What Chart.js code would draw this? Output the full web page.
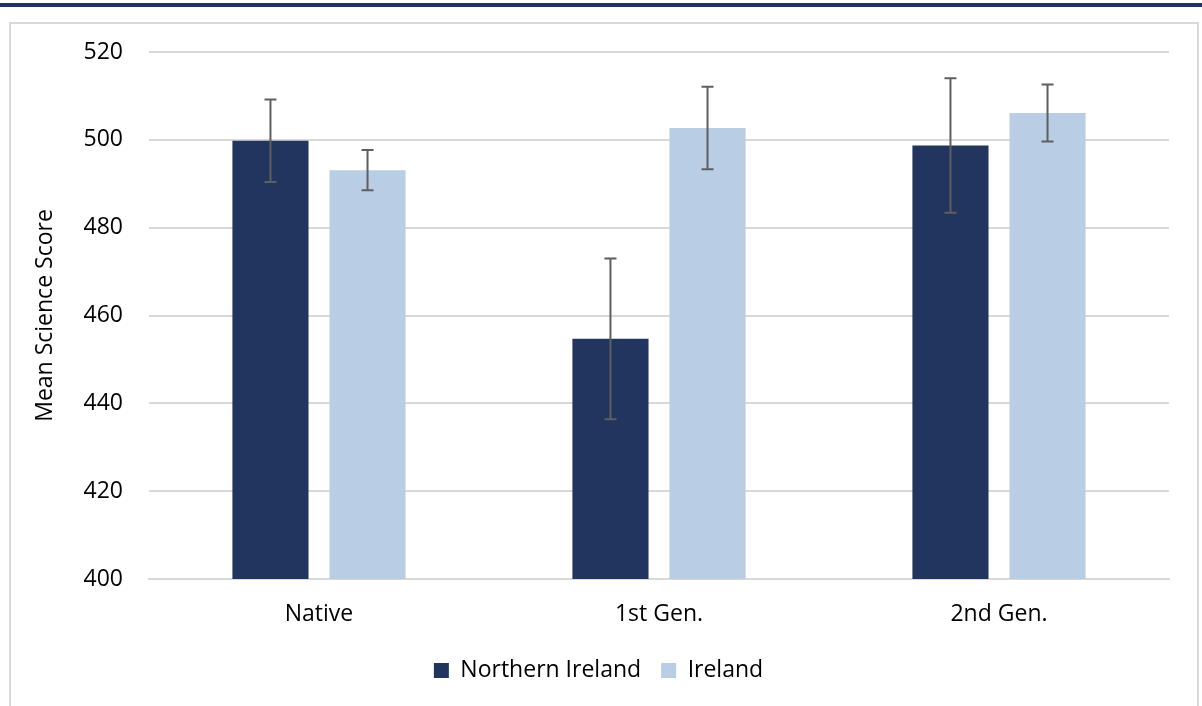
<!DOCTYPE html>
<html>
<head>
<meta charset="utf-8">
<script src="https://cdn.jsdelivr.net/npm/chart.js@4.4.0/dist/chart.umd.min.js"></script>
<style>
  html, body { margin: 0; padding: 0; background: #fff; }
  body { width: 1202px; height: 706px; position: relative; overflow: hidden; }
  #topbar { position: absolute; left: 0; top: 3px; width: 1202px; height: 4px; background: #1f3560; }
  #frame { position: absolute; left: 9px; top: 22px; width: 1190px; height: 720px; border: 2px solid #d9d9d9; box-sizing: border-box; }
  #chart { position: absolute; left: 0; top: 0; }
</style>
</head>
<body>
<div id="topbar"></div>
<div id="frame"></div>
<canvas id="chart" width="1202" height="706"></canvas>
<script>
const categories = ["Native", "1st Gen.", "2nd Gen."];
const northernIreland = [499.8, 454.7, 498.7];
const northernIrelandErr = [9.4, 18.3, 15.3];
const ireland = [493.1, 502.7, 506.1];
const irelandErr = [4.6, 9.4, 6.5];
const yTicks = { min: 400, max: 520, step: 20 };

const fontFamily = "'Open Sans', sans-serif";
const fontSize = 23;

// draw +/- error whiskers on top of each bar
const errorBars = {
  id: "errorBars",
  afterDatasetsDraw(chart) {
    const { ctx } = chart;
    const y = chart.scales.y;
    ctx.save();
    ctx.strokeStyle = "#5f5f5f";
    ctx.lineWidth = 2;
    chart.data.datasets.forEach((ds, i) => {
      const meta = chart.getDatasetMeta(i);
      meta.data.forEach((bar, j) => {
        const hi = y.getPixelForValue(ds.data[j] + ds.errors[j]);
        const lo = y.getPixelForValue(ds.data[j] - ds.errors[j]);
        const x = bar.x;
        ctx.beginPath();
        ctx.moveTo(x, hi);
        ctx.lineTo(x, lo);
        ctx.moveTo(x - 6, hi);
        ctx.lineTo(x + 6, hi);
        ctx.moveTo(x - 6, lo);
        ctx.lineTo(x + 6, lo);
        ctx.stroke();
      });
    });
    ctx.restore();
  },
};

const ctx = document.getElementById("chart");
const chart = new Chart(ctx, {
  type: "bar",
  data: {
    labels: categories,
    datasets: [
      {
        label: "Northern Ireland",
        data: northernIreland,
        errors: northernIrelandErr,
        backgroundColor: "#22355e",
        borderWidth: 0,
      },
      {
        label: "Ireland",
        data: ireland,
        errors: irelandErr,
        backgroundColor: "#b9cde5",
        borderWidth: 0,
      },
    ],
  },
  options: {
    responsive: false,
    animation: false,
    categoryPercentage: 0.571,
    barPercentage: 0.784,
    layout: {
      padding: { top: 52, left: 28, right: 33, bottom: 14 },
    },
    plugins: {
      legend: {
        position: "bottom",
        labels: {
          boxWidth: 15,
          boxHeight: 15,
          padding: 20,
          color: "#000",
          font: { family: fontFamily, size: fontSize },
        },
      },
      tooltip: { enabled: false },
    },
    scales: {
      x: {
        grid: { display: false },
        border: { display: true, color: "#d9d9d9", width: 2 },
        ticks: {
          color: "#000",
          padding: 14,
          font: { family: fontFamily, size: fontSize },
        },
        afterFit(scale) {
          scale.height = 60;
        },
      },
      y: {
        min: yTicks.min,
        max: yTicks.max,
        ticks: {
          stepSize: yTicks.step,
          color: "#000",
          padding: 26,
          font: { family: fontFamily, size: fontSize },
        },
        grid: { color: "#d9d9d9", lineWidth: 2, drawTicks: false },
        border: { display: false },
        title: {
          display: true,
          text: "Mean Science Score",
          color: "#000",
          font: { family: fontFamily, size: fontSize },
        },
        afterFit(scale) {
          scale.width = 121;
        },
      },
    },
  },
  plugins: [errorBars],
});
</script>
</body>
</html>
